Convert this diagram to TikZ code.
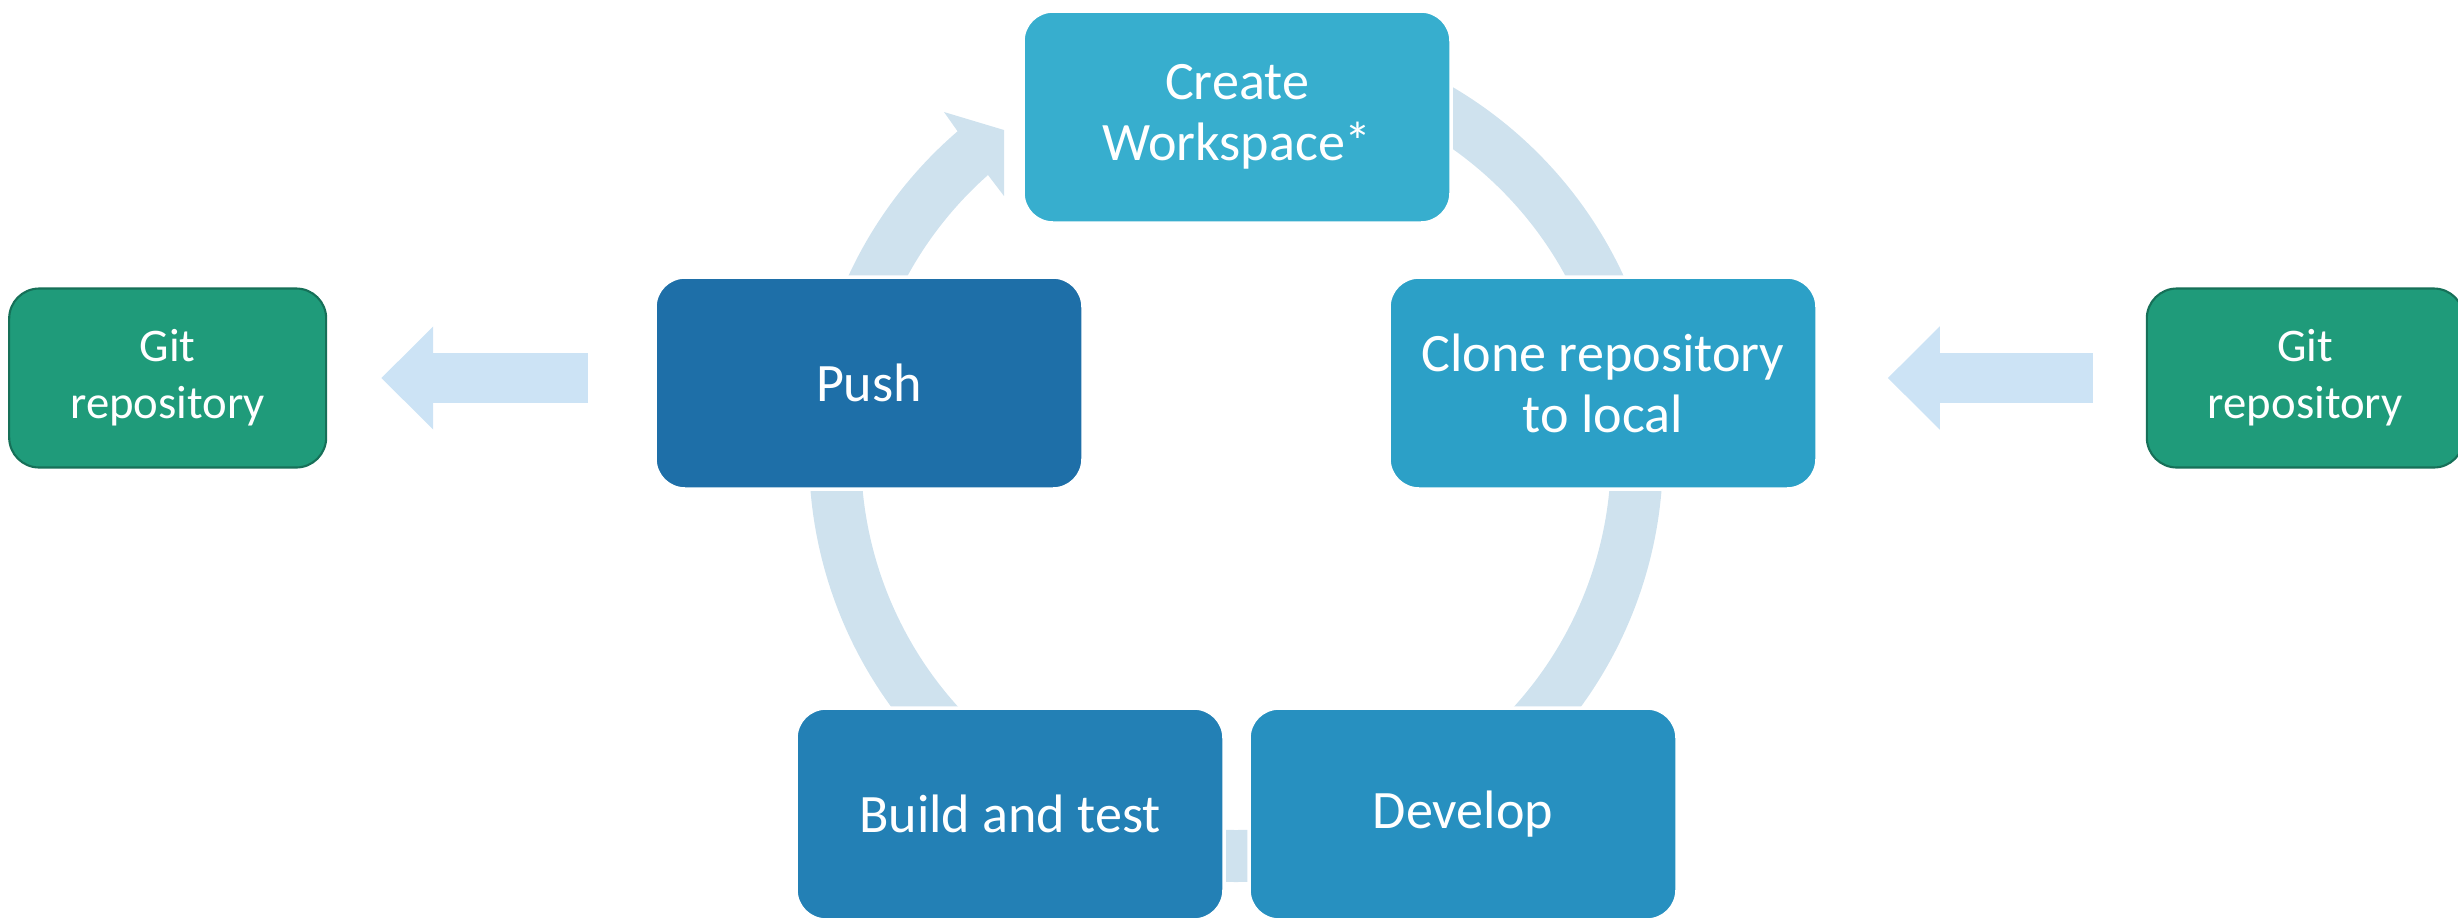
\documentclass[tikz,border=0pt]{standalone}
\usepackage{fontspec}
\setmainfont{Carlito}
\usetikzlibrary{arrows.meta, positioning}

\definecolor{ringblue}{RGB}{207,226,238}
\definecolor{flowblue}{RGB}{204,227,245}
\definecolor{createcol}{RGB}{55,174,206}
\definecolor{clonecol}{RGB}{44,160,199}
\definecolor{developcol}{RGB}{39,144,192}
\definecolor{buildcol}{RGB}{35,128,181}
\definecolor{pushcol}{RGB}{30,111,168}
\definecolor{repogreen}{RGB}{31,155,122}
\definecolor{repoedge}{RGB}{22,112,88}

\begin{document}
\begin{tikzpicture}[
    cyclebox/.style={rectangle, draw=white, line width=1pt, rounded corners=0.3cm, minimum width=4.28cm, minimum height=2.12cm, inner sep=0pt, align=center, text=white, font=\fontsize{15.4}{17.4}\selectfont},
    repo/.style={rectangle, draw=repoedge, line width=0.6pt, fill=repogreen, rounded corners=0.3cm, minimum width=3.17cm, minimum height=1.79cm, inner sep=0pt, align=center, text=white, font=\fontsize{13.3}{16.2}\selectfont},
    ring/.style={draw=ringblue, line width=0.52cm},
    flow/.style={draw=flowblue, line width=0.5cm, -{Triangle[length=0.52cm, width=1cm]}}
 ]
\useasboundingbox (0,0) rectangle (24.58,-9.17);

\coordinate (Center) at (12.36,-4.55);

% ring behind the boxes
\draw[ring] ([shift={(85:4.01)}]Center) arc[start angle=85, end angle=15, radius=4.01];
\draw[ring] ([shift={(0:4.01)}]Center) arc[start angle=0, end angle=-50, radius=4.01];
\draw[ring] ([shift={(-75:4.01)}]Center) arc[start angle=-75, end angle=-105, radius=4.01];
\draw[ring] ([shift={(-130:4.01)}]Center) arc[start angle=-130, end angle=-180, radius=4.01];
\fill[ringblue] ([shift={(180:4.27)}]Center) arc[start angle=180, end angle=130.7, radius=4.27]
    -- (9.44,-1.12) -- (10.04,-1.30) -- (10.04,-1.96) -- (9.88,-1.75)
    arc[start angle=131.5, end angle=180, radius=3.75] -- cycle;

\node[cyclebox, fill=createcol] (CreateWorkspace) at (12.37,-1.17) {Create\\Workspace*};
\node[cyclebox, fill=clonecol] (CloneRepo) at (16.03,-3.83) {Clone repository\\to local};
\node[cyclebox, fill=developcol] (Develop) at (14.63,-8.14) {Develop};
\node[cyclebox, fill=buildcol] (BuildTest) at (10.10,-8.14) {Build and test};
\node[cyclebox, fill=pushcol] (Push) at (8.69,-3.83) {Push};

\node[repo, left=3.26cm of Push, yshift=0.05cm] (GitLeft) {Git\\repository};
\node[repo, right=3.27cm of CloneRepo, yshift=0.05cm] (GitRight) {Git\\repository};

\draw[flow, shorten <=0.65cm, shorten >=0.54cm] (Push.west |- GitLeft.east) -- (GitLeft.east);
\draw[flow, shorten <=0.53cm, shorten >=0.69cm] (GitRight.west) -- (CloneRepo.east |- GitRight.west);

\end{tikzpicture}
\end{document}
